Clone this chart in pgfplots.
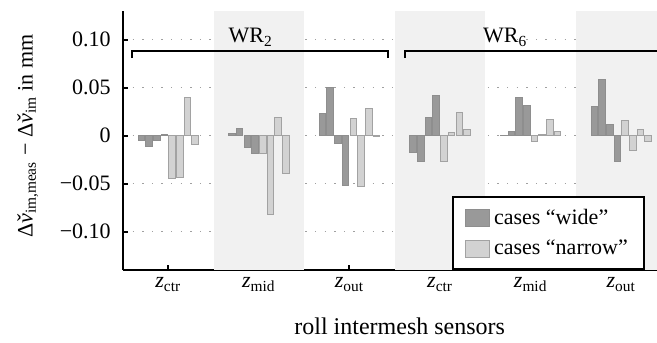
\documentclass[border=0pt]{standalone}
\usepackage{pgfplots}
\pgfplotsset{compat=1.18}
\usepackage{fontspec}
\setmainfont{Liberation Serif}
\definecolor{darkbar}{HTML}{999999}
\definecolor{darkedge}{HTML}{8E8E8E}
\definecolor{lightbar}{HTML}{D2D2D2}
\definecolor{lightedge}{HTML}{A2A2A2}
\definecolor{band}{HTML}{F1F1F1}
\definecolor{gridc}{HTML}{A0A0A0}
\newcommand{\vc}{\textit{v}\llap{\makebox[0.444em][c]{\hspace{0.12em}ˇ}}}
\pgfplotsset{mylegend/.style={legend image code/.code={\draw[##1] (0pt,-4.25pt) rectangle (12pt,4.25pt);}}}
\begin{document}
\fontsize{11}{13}\selectfont
\begin{tikzpicture}
\begin{axis}[
  name=ax,
  set layers,
  scale only axis,
  width=271.8pt, height=129.5pt,
  xmin=-0.5, xmax=5.5,
  ymin=-0.14, ymax=0.13,
  axis x line*=bottom, axis y line*=left,
  axis line style={line width=1pt, black},
  xtick={0,1,2,3,4,5},
  xticklabels={\textit{z}\textsubscript{ctr},\textit{z}\textsubscript{mid},\textit{z}\textsubscript{out},\textit{z}\textsubscript{ctr},\textit{z}\textsubscript{mid},\textit{z}\textsubscript{out}},
  ytick={-0.1,-0.05,0,0.05,0.1},
  yticklabels={−0.10,−0.05,0,0.05,0.10},
  tick align=inside,
  major tick length=2.5pt,
  tick style={black, line width=1pt},
  yticklabel style={xshift=-2.3pt},
  ymajorgrids,
  major grid style={gridc, line width=0.7pt, dash pattern=on 0.7pt off 4.1pt},
  ylabel={Δ\vc\textsubscript{im,meas} − Δ\vc\textsubscript{im} in mm},
  ylabel style={at={(axis description cs:-0.175,0.517)}, anchor=center, rotate=0},
  xlabel={roll intermesh sensors},
  xlabel style={at={(axis description cs:0.509,-0.216)}, anchor=center, font=\fontsize{12}{14}\selectfont},
  legend cell align=left,
  legend style={at={(axis description cs:0.605,0.286)}, anchor=north west,
    draw=black, line width=1.2pt, fill=white, inner xsep=6pt, inner ysep=4pt,
    row sep=2pt, font=\fontsize{11}{13}\selectfont},
]
\fill[on layer=axis background, band] (axis cs:0.5,-0.14) rectangle (axis cs:1.5,0.13);
\fill[on layer=axis background, band] (axis cs:2.5,-0.14) rectangle (axis cs:3.5,0.13);
\fill[on layer=axis background, band] (axis cs:4.5,-0.14) rectangle (axis cs:5.5,0.13);

\addplot[ybar, bar width=0.072, bar shift=0pt, fill=darkbar, draw=darkedge, line width=0.5pt, mylegend]
coordinates {
(-0.2975,-0.005) (-0.2125,-0.011) (-0.1275,-0.005) (-0.0425,0.001)
(0.7025,0.002) (0.7875,0.007) (0.8725,-0.012) (0.9575,-0.019)
(1.7025,0.023) (1.7875,0.050) (1.8725,-0.008) (1.9575,-0.052)
(2.7025,-0.017) (2.7875,-0.027) (2.8725,0.019) (2.9575,0.042)
(3.7025,0.0005) (3.7875,0.0045) (3.8725,0.040) (3.9575,0.031)
(4.7025,0.0306) (4.7875,0.059) (4.8725,0.0115) (4.9575,-0.027)
};
\addlegendentry{cases “wide”}
\addplot[ybar, bar width=0.072, bar shift=0pt, fill=lightbar, draw=lightedge, line width=0.5pt, mylegend]
coordinates {
(0.0425,-0.045) (0.1275,-0.044) (0.2125,0.040) (0.2975,-0.009)
(1.0425,-0.019) (1.1275,-0.082) (1.2125,0.019) (1.2975,-0.039)
(2.0425,0.018) (2.1275,-0.053) (2.2125,0.028) (2.2975,-0.001)
(3.0425,-0.027) (3.1275,0.003) (3.2125,0.024) (3.2975,0.006)
(4.0425,-0.006) (4.1275,0.0015) (4.2125,0.017) (4.2975,0.0045)
(5.0425,0.0163) (5.1275,-0.0156) (5.2125,0.0069) (5.2975,-0.0056)
};
\addlegendentry{cases “narrow”}

\draw[line width=1pt] (axis cs:-0.4,0.081) -- (axis cs:-0.4,0.0885) -- (axis cs:2.42,0.0885) -- (axis cs:2.42,0.081);
\draw[line width=1pt] (axis cs:2.61,0.081) -- (axis cs:2.61,0.0885) -- (axis cs:5.6,0.0885);
\node[anchor=base west, inner sep=0pt] at (axis cs:0.662,0.0969) {WR\textsubscript{2}};
\node[anchor=base west, inner sep=0pt] at (axis cs:3.47,0.0969) {WR\textsubscript{6}};
\end{axis}
\pgfresetboundingbox
\path[use as bounding box] ([xshift=-61.5pt,yshift=-36pt]ax.south west) rectangle ([xshift=267pt,yshift=5.5pt]ax.north west);
\end{tikzpicture}
\end{document}
